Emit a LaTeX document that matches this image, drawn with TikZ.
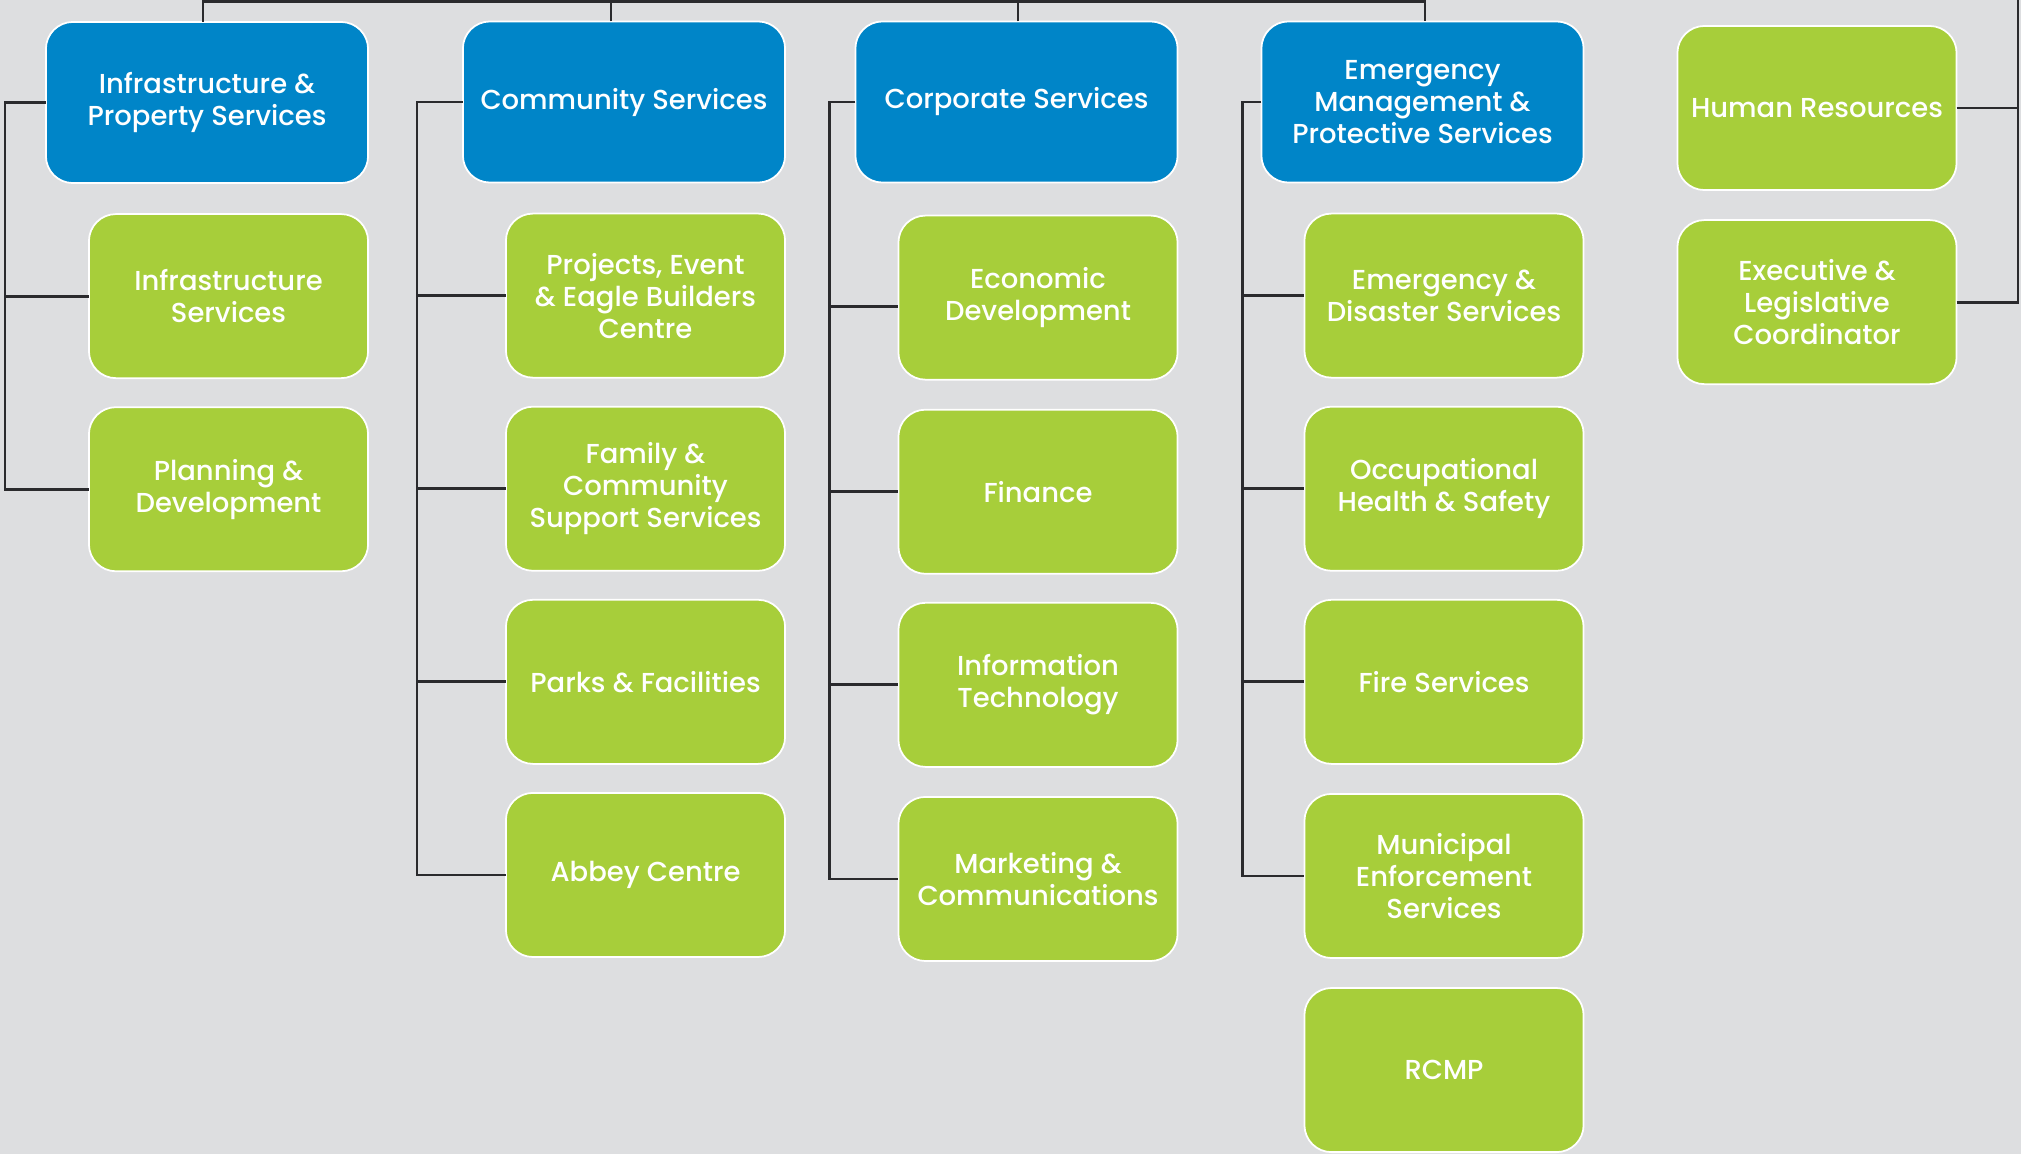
\documentclass[tikz,border=0pt]{standalone}
\usepackage{fontspec}
\setmainfont{Poppins}[UprightFont={* Medium}]
\usepackage{tikz}
\usepackage{xcolor}
\usetikzlibrary{positioning}
\definecolor{cityblue}{HTML}{0085C8}
\definecolor{citygreen}{HTML}{A7CE3A}
\definecolor{citybg}{HTML}{DDDEE0}
\definecolor{cityline}{HTML}{2A2A2D}

\begin{document}
\begin{tikzpicture}[x=0.01cm, y=-0.01cm,
    dept/.style={draw=white, line width=0.5pt, fill=cityblue, rounded corners=0.27cm,
                 minimum width=3.22cm, minimum height=1.61cm, inner sep=0pt, outer sep=0pt,
                 text=white, align=center, font=\fontsize{7.8}{9.1}\selectfont},
    unit/.style={dept, fill=citygreen, minimum width=2.79cm, minimum height=1.64cm},
    link/.style={draw=cityline, line width=0.8pt}
]
  \useasboundingbox (0,0) rectangle (2021,1154);
  \fill[citybg] (0,0) rectangle (2021,1154);
  % Departments
  \node[dept] (ips) at (207,102.5) {Infrastructure \&\\Property Services};
  \node[dept] (cs) at (624,102) {Community Services};
  \node[dept] (cps) at (1016.5,102) {Corporate Services};
  \node[dept] (ems) at (1422.5,102) {Emergency\\Management \&\\Protective Services};
  % Infrastructure & Property
  \node[unit, below left=0.31cm and 0cm of ips.south east] (infs) {Infrastructure\\Services};
  \node[unit, below=0.29cm of infs] (plan) {Planning \&\\Development};
  % Community
  \node[unit, below left=0.31cm and 0cm of cs.south east] (proj) {Projects, Event\\\& Eagle Builders\\Centre};
  \node[unit, below=0.29cm of proj] (fam) {Family \&\\Community\\Support Services};
  \node[unit, below=0.29cm of fam] (parks) {Parks \& Facilities};
  \node[unit, below=0.29cm of parks] (abbey) {Abbey Centre};
  % Corporate
  \node[unit, below left=0.33cm and 0cm of cps.south east] (econ) {Economic\\Development};
  \node[unit, below=0.3cm of econ] (fin) {Finance};
  \node[unit, below=0.29cm of fin] (it) {Information\\Technology};
  \node[unit, below=0.3cm of it] (mark) {Marketing \&\\Communications};
  % Emergency Management
  \node[unit, below left=0.31cm and 0cm of ems.south east] (eds) {Emergency \&\\Disaster Services};
  \node[unit, below=0.29cm of eds] (ohs) {Occupational\\Health \& Safety};
  \node[unit, below=0.29cm of ohs] (fire) {Fire Services};
  \node[unit, below=0.3cm of fire] (mes) {Municipal\\Enforcement\\Services};
  \node[unit, below=0.3cm of mes] (rcmp) {RCMP};
  % Office units
  \node[unit] (hr) at (1817,108) {Human Resources};
  \node[unit, below=0.3cm of hr] (elc) {Executive \&\\Legislative\\Coordinator};

  % Top bus
  \coordinate (bus) at (0,1.5);
  \draw[link] ([xshift=-0.04cm]ips.north) |- ([xshift=0.025cm]ems.north |- bus)
    -- ([xshift=0.025cm]ems.north);
  \draw[link] ([xshift=-0.13cm]cs.north) -- ([xshift=-0.13cm]cs.north |- bus);
  \draw[link] ([xshift=0.015cm]cps.north) -- ([xshift=0.015cm]cps.north |- bus);
  % Column brackets
  \draw[link] (ips.west) -- ++(-41,0) coordinate (sp1) |- (infs.west);
  \draw[link] (sp1) |- (plan.west);
  \draw[link] (cs.west) -- ++(-46,0) coordinate (sp2) |- (proj.west);
  \draw[link] (sp2) |- (fam.west);
  \draw[link] (sp2) |- (parks.west);
  \draw[link] (sp2) |- (abbey.west);
  \draw[link] (cps.west) -- ++(-26,0) coordinate (sp3) |- ([yshift=-0.09cm]econ.west);
  \draw[link] (sp3) |- (fin.west);
  \draw[link] (sp3) |- (it.west);
  \draw[link] (sp3) |- (mark.west);
  \draw[link] (ems.west) -- ++(-19,0) coordinate (sp4) |- (eds.west);
  \draw[link] (sp4) |- (ohs.west);
  \draw[link] (sp4) |- (fire.west);
  \draw[link] (sp4) |- (mes.west);
  % Right bracket
  \coordinate (rtop) at (2018,0);
  \draw[link] (elc.east) -| (rtop);
  \draw[link] (hr.east) -- (hr.east -| rtop);
\end{tikzpicture}
\end{document}
